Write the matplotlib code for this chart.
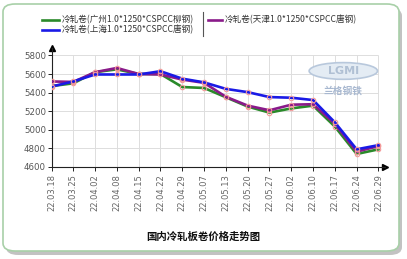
import matplotlib
matplotlib.use("Agg")
import matplotlib.pyplot as plt
from matplotlib.patches import FancyBboxPatch, Ellipse

plt.rcParams['font.family'] = ['Noto Sans CJK SC', 'DejaVu Sans']

dates = ["22.03.18", "22.03.25", "22.04.02", "22.04.08", "22.04.15", "22.04.22",
         "22.04.29", "22.05.07", "22.05.13", "22.05.20", "22.05.27", "22.06.02",
         "22.06.10", "22.06.17", "22.06.24", "22.06.29"]
guangzhou = [5470, 5500, 5620, 5650, 5600, 5600, 5460, 5450, 5350, 5250, 5185, 5230, 5260, 5035, 4740, 4790]
shanghai = [5465, 5520, 5595, 5595, 5595, 5630, 5550, 5510, 5440, 5405, 5352, 5345, 5320, 5080, 4790, 4835]
tianjin = [5520, 5515, 5620, 5665, 5600, 5595, 5540, 5505, 5355, 5260, 5210, 5270, 5275, 5065, 4765, 4825]
yticks = [4600, 4800, 5000, 5200, 5400, 5600, 5800]

names = ["冷轧卷(广州1.0*1250*CSPCC柳钢)", "冷轧卷(上海1.0*1250*CSPCC唐钢)",
         "冷轧卷(天津1.0*1250*CSPCC唐钢)"]
title = "国内冷轧板卷价格走势图"

W, H = 407, 259
fig = plt.figure(figsize=(W / 100, H / 100), dpi=100)

def fx(px):
    return px / W

def fy(py):
    return 1 - py / H

# panel with shadow and rounded border
shadow = FancyBboxPatch((fx(6), fy(255)), fx(396), fy(8) - fy(255),
                        boxstyle="round,pad=0,rounding_size=0.03",
                        transform=fig.transFigure, fc="#9a9a9a", ec="none", alpha=0.6,
                        zorder=-10)
panel = FancyBboxPatch((fx(3), fy(251)), fx(396), fy(4) - fy(251),
                       boxstyle="round,pad=0,rounding_size=0.03",
                       transform=fig.transFigure, fc="white", ec="#a8d0a8", lw=1.2,
                       zorder=-9)
fig.patches.extend([shadow, panel])

x0, x1 = 51.5, 385
ytop, ybot = 47.7, 167
ax = fig.add_axes([fx(x0), fy(ybot), fx(x1) - fx(x0), fy(ytop) - fy(ybot)])
ax.patch.set_alpha(0)
n = len(dates)
xs = list(range(n))
ax.set_xlim(0, 15.3)
ax.set_ylim(4600, 5883)

# grid
ax.hlines(yticks[1:], 0, n - 1, colors="#dddddd", lw=0.7, zorder=0)
ax.vlines(xs[1:], 4600, 5800, colors="#dddddd", lw=0.7, zorder=0)

# watermark
ax.add_patch(Ellipse((0.875, 0.805), 0.205, 0.14, transform=ax.transAxes,
                     fc="#e4ecf4", ec="#b8c8dc", lw=1.2, zorder=0.5))
ax.text(0.875, 0.805, "LGMI", transform=ax.transAxes, ha="center", va="center",
        fontsize=8, color="#b0c0d4", fontweight="bold", zorder=0.6, family="DejaVu Sans")
ax.text(0.875, 0.64, "兰格钢铁", transform=ax.transAxes, ha="center", va="center",
        fontsize=7, color="#a8b8d0", fontweight="bold", zorder=0.6)

mk = dict(marker="o", markersize=3.2, mfc="none", mec="#f39a9a", mew=0.8,
          solid_joinstyle="round")
ax.plot(xs, guangzhou, color="#2a8a2a", lw=1.9, zorder=3, **mk)
ax.plot(xs, tianjin, color="#8a1a8a", lw=1.9, zorder=4, **mk)
ax.plot(xs, shanghai, color="#1a1ae6", lw=1.9, zorder=5, **mk)

for s in ["top", "right"]:
    ax.spines[s].set_visible(False)
for s in ["left", "bottom"]:
    ax.spines[s].set_color("#222222")
    ax.spines[s].set_linewidth(0.8)
ax.plot(1, 0, ">k", transform=ax.transAxes, clip_on=False, markersize=4.5)
ax.plot(0, 1, "^k", transform=ax.transAxes, clip_on=False, markersize=4.5)

ax.set_yticks(yticks)
ax.set_yticklabels([str(v) for v in yticks], family="DejaVu Sans")
ax.set_xticks(xs)
ax.set_xticklabels(dates, rotation=90, family="DejaVu Sans")
ax.tick_params(axis="y", labelsize=6.2, labelcolor="#555555", length=3, width=0.6, pad=1)
ax.tick_params(axis="x", labelsize=6, labelcolor="#666666", length=3, width=0.6, pad=2)

# legend
fig.add_artist(plt.Line2D([fx(42), fx(59)], [fy(19.5), fy(19.5)], color="#2a8a2a", lw=1.9))
fig.add_artist(plt.Line2D([fx(42), fx(59)], [fy(30), fy(30)], color="#1a1ae6", lw=1.9))
fig.add_artist(plt.Line2D([fx(208), fx(222)], [fy(19.5), fy(19.5)], color="#8a1a8a", lw=1.9))
fig.add_artist(plt.Line2D([fx(202.5), fx(202.5)], [fy(12), fy(36)], color="#555555", lw=0.8))
fig.text(fx(62), fy(19.5), names[0], fontsize=6.2, color="#333333", va="center")
fig.text(fx(62), fy(30), names[1], fontsize=6.2, color="#333333", va="center")
fig.text(fx(225), fy(19.5), names[2], fontsize=6.2, color="#333333", va="center")

fig.text(fx(203), fy(237), title, fontsize=7.5, fontweight="bold", color="#111111",
         ha="center", va="center")

fig.savefig("out.png", dpi=100)
